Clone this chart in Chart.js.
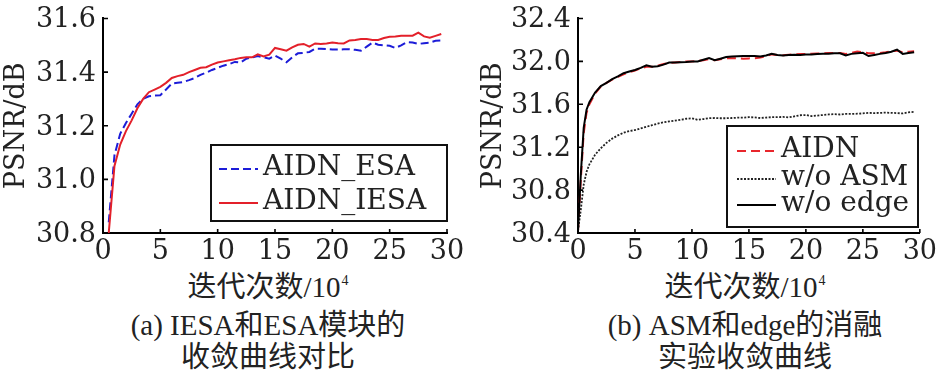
<!DOCTYPE html>
<html><head><meta charset="utf-8">
<script src="https://cdn.jsdelivr.net/npm/chart.js@4.4.1/dist/chart.umd.min.js"></script>
<style>
html,body{margin:0;padding:0;background:#fff;}
#wrap{position:relative;width:942px;height:375px;overflow:hidden;background:#fff;}
canvas{position:absolute;top:0;}
.cap{position:absolute;top:271px;width:440px;text-align:center;font-family:"Liberation Serif","Noto Sans CJK SC",serif;font-size:29px;line-height:32px;color:#222;white-space:nowrap;}
.cap .sup{font-size:14px;position:relative;top:-12px;margin-left:1px;}
</style></head>
<body>
<div id="wrap">
  <canvas id="c1" width="471" height="270" style="left:0"></canvas>
  <canvas id="c2" width="471" height="270" style="left:471px"></canvas>
  <div class="cap" style="left:48px">迭代次数/10<span class="sup">4</span><br>(a) IESA和ESA模块的<br>收敛曲线对比</div>
  <div class="cap" style="left:525px">迭代次数/10<span class="sup">4</span><br>(b) ASM和edge的消融<br>实验收敛曲线</div>
</div>
<script>
// ---------- data ----------
const xTicks = [0, 5, 10, 15, 20, 25, 30];
const leftYTicks = [30.8, 31.0, 31.2, 31.4, 31.6];
const rightYTicks = [30.4, 30.8, 31.2, 31.6, 32.0, 32.4];

const leftIter = [0.5,1,1.5,2,2.5,3,3.5,4,4.5,5,5.5,6,6.5,7,7.5,8,8.5,9,9.5,10,10.5,11,11.5,12,12.5,13,13.5,14,14.5,15,15.5,16,16.5,17,17.5,18,18.5,19,19.5,20,20.5,21,21.5,22,22.5,23,23.5,24,24.5,25,25.5,26,26.5,27,27.5,28,28.5,29,29.5];
const esaPSNR = [30.84,31.09,31.17,31.21,31.245,31.28,31.30,31.31,31.313,31.314,31.335,31.357,31.36,31.363,31.37,31.378,31.39,31.398,31.408,31.416,31.424,31.43,31.438,31.436,31.45,31.455,31.46,31.455,31.45,31.462,31.45,31.437,31.455,31.47,31.472,31.475,31.487,31.487,31.486,31.484,31.484,31.485,31.485,31.483,31.48,31.495,31.51,31.502,31.5,31.498,31.49,31.5,31.512,31.51,31.505,31.508,31.51,31.517,31.518];
const iesaPSNR = [30.80,31.05,31.13,31.18,31.22,31.265,31.30,31.325,31.335,31.345,31.36,31.378,31.385,31.39,31.40,31.408,31.416,31.418,31.428,31.436,31.44,31.444,31.448,31.453,31.455,31.455,31.466,31.458,31.465,31.49,31.485,31.48,31.492,31.502,31.505,31.495,31.507,31.505,31.507,31.51,31.508,31.507,31.518,31.52,31.523,31.523,31.52,31.52,31.527,31.532,31.533,31.536,31.536,31.536,31.547,31.533,31.528,31.535,31.542];

const rightIter = [0,0.25,0.5,0.75,1,1.5,2,2.5,3,3.5,4,4.5,5,5.5,6,6.5,7,7.5,8,8.5,9,9.5,10,10.5,11,11.5,12,12.5,13,13.5,14,14.5,15,15.5,16,16.5,17,17.5,18,18.5,19,19.5,20,20.5,21,21.5,22,22.5,23,23.5,24,24.5,25,25.5,26,26.5,27,27.5,28,28.5,29,29.5];
const aidnPSNR = [30.42,30.90,31.33,31.52,31.60,31.70,31.765,31.80,31.83,31.855,31.88,31.90,31.915,31.935,31.95,31.95,31.96,31.975,31.985,31.99,31.995,32.0,32.0,32.005,32.01,32.02,32.01,32.02,32.03,32.03,32.028,32.025,32.028,32.03,32.035,32.05,32.065,32.06,32.058,32.062,32.065,32.068,32.07,32.072,32.074,32.075,32.077,32.078,32.078,32.07,32.078,32.092,32.085,32.075,32.075,32.078,32.085,32.095,32.1,32.085,32.09,32.095];
const noAsmPSNR = [30.42,30.62,30.85,30.97,31.04,31.13,31.19,31.24,31.28,31.31,31.335,31.35,31.36,31.375,31.39,31.405,31.42,31.432,31.44,31.447,31.455,31.465,31.47,31.455,31.462,31.47,31.472,31.47,31.47,31.472,31.475,31.475,31.48,31.478,31.472,31.476,31.48,31.48,31.482,31.478,31.488,31.498,31.5,31.49,31.495,31.5,31.505,31.508,31.505,31.51,31.51,31.512,31.515,31.52,31.518,31.52,31.522,31.52,31.518,31.515,31.525,31.53];
const noEdgePSNR = [30.42,30.95,31.38,31.55,31.62,31.71,31.77,31.80,31.835,31.86,31.89,31.905,31.92,31.94,31.963,31.95,31.955,31.97,31.99,31.99,31.992,31.995,32.0,32.0,32.015,32.03,32.01,32.025,32.04,32.045,32.047,32.05,32.05,32.05,32.045,32.055,32.07,32.06,32.055,32.06,32.062,32.06,32.065,32.065,32.068,32.07,32.072,32.075,32.075,32.055,32.07,32.075,32.08,32.05,32.06,32.07,32.078,32.09,32.11,32.07,32.078,32.085];

const yTitle = 'PSNR/dB';

// ---------- helpers ----------
const SERIF = '"DejaVu Serif", serif';
const pts = (xs, ys) => xs.map((x, i) => ({x: x, y: ys[i]}));

const inwardTicks = {
  id: 'inwardTicks',
  afterDraw(chart) {
    const {ctx, chartArea: a, scales: {x, y}} = chart;
    ctx.save();
    ctx.strokeStyle = '#000';
    ctx.lineWidth = 1.6;
    ctx.beginPath();
    x.ticks.forEach(t => { const p = x.getPixelForValue(t.value); ctx.moveTo(p, a.bottom); ctx.lineTo(p, a.bottom - 4); });
    y.ticks.forEach(t => { const p = y.getPixelForValue(t.value); ctx.moveTo(a.left, p); ctx.lineTo(a.left + 5, p); });
    ctx.stroke();
    ctx.restore();
  }
};

const boxLegend = {
  id: 'boxLegend',
  afterDraw(chart, args, o) {
    const ctx = chart.ctx;
    ctx.save();
    ctx.fillStyle = '#fff';
    ctx.fillRect(o.x, o.y, o.w, o.h);
    ctx.lineWidth = 2;
    ctx.strokeStyle = '#111';
    ctx.strokeRect(o.x, o.y, o.w, o.h);
    chart.data.datasets.forEach((ds, i) => {
      const ry = o.rows[i];
      ctx.beginPath();
      ctx.setLineDash(ds.borderDash || []);
      ctx.lineWidth = ds.borderWidth;
      ctx.strokeStyle = ds.borderColor;
      ctx.moveTo(o.x1, ry);
      ctx.lineTo(o.x2, ry);
      ctx.stroke();
      ctx.setLineDash([]);
      ctx.font = o.font;
      ctx.fillStyle = '#222';
      ctx.textAlign = 'left';
      ctx.textBaseline = 'middle';
      ctx.fillText(ds.label, o.tx, ry + o.dy);
    });
    ctx.restore();
  }
};

function makeChart(id, datasets, yMin, yMax, yTickVals, yWidth, titlePad, padRight, legend) {
  return new Chart(document.getElementById(id), {
    type: 'line',
    data: {datasets: datasets},
    plugins: [inwardTicks, boxLegend],
    options: {
      responsive: false,
      devicePixelRatio: 1,
      animation: false,
      parsing: true,
      layout: {padding: {left: 0, right: padRight, top: 12, bottom: 0}},
      elements: {point: {radius: 0}, line: {tension: 0}},
      plugins: {legend: {display: false}, tooltip: {enabled: false}, boxLegend: legend},
      scales: {
        x: {
          type: 'linear', min: 0, max: 30,
          afterBuildTicks: s => { s.ticks = xTicks.map(v => ({value: v})); },
          afterFit: s => { s.height = 37; },
          grid: {display: true, drawOnChartArea: false, drawTicks: false},
          border: {display: true, color: '#000', width: 2},
          ticks: {color: '#222', padding: 5, maxRotation: 0, autoSkip: false,
                  font: {family: SERIF, size: 27, lineHeight: 1}}
        },
        y: {
          type: 'linear', min: yMin, max: yMax,
          afterBuildTicks: s => { s.ticks = yTickVals.map(v => ({value: v})); },
          afterFit: s => { s.width = yWidth; },
          grid: {display: true, drawOnChartArea: false, drawTicks: false},
          border: {display: true, color: '#000', width: 2},
          ticks: {color: '#222', padding: 7, autoSkip: false, labelOffset: 2,
                  callback: v => Number(v).toFixed(1),
                  font: {family: SERIF, size: 27, lineHeight: 0.85}},
          title: {display: true, text: yTitle, color: '#222', padding: {top: titlePad, bottom: 0},
                  font: {family: SERIF, size: 27, lineHeight: 1}}
        }
      }
    }
  });
}

makeChart('c1', [
  {label: 'AIDN_ESA', data: pts(leftIter, esaPSNR), borderColor: '#1c1cd8', borderWidth: 2, borderDash: [8, 4], order: 1},
  {label: 'AIDN_IESA', data: pts(leftIter, iesaPSNR), borderColor: '#e3202a', borderWidth: 2, order: 0}
], 30.8, 31.6, leftYTicks, 103, 3, 24,
  {x: 211, y: 145, w: 236, h: 76, rows: [169, 203], x1: 219, x2: 258, tx: 263, dy: -1, font: '28px ' + SERIF});

makeChart('c2', [
  {label: 'AIDN', data: pts(rightIter, aidnPSNR), borderColor: '#e8262c', borderWidth: 2, borderDash: [9, 5], order: 2},
  {label: 'w/o ASM', data: pts(rightIter, noAsmPSNR), borderColor: '#222', borderWidth: 1.8, borderDash: [2, 1.5], order: 1},
  {label: 'w/o edge', data: pts(rightIter, noEdgePSNR), borderColor: '#000', borderWidth: 2, order: 0}
], 30.4, 32.4, rightYTicks, 107, 9, 21,
  {x: 256, y: 126, w: 191, h: 101, rows: [151, 179, 205], x1: 266, x2: 305, tx: 310, dy: -1, font: '28px ' + SERIF});
</script>
</body></html>
